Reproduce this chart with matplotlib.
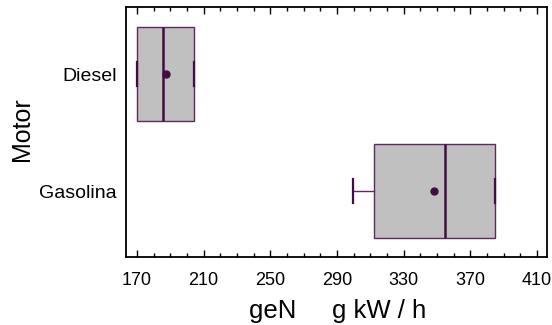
import matplotlib
matplotlib.use("Agg")
import matplotlib.pyplot as plt
from matplotlib.ticker import MultipleLocator

plt.rcParams['font.family'] = ['Liberation Sans', 'DejaVu Sans']

# box plot summary per motor type
motors = ["Gasolina", "Diesel"]
mins = [299.6, 170.0]
q1s = [312.4, 170.0]
medians = [354.8, 185.8]
means = [348.4, 187.2]
q3s = [384.8, 204.5]
maxs = [384.8, 204.5]

box_edge = '#5e2a5e'
dark = '#420d42'

fig = plt.figure(figsize=(5.52, 3.25), dpi=100)
ax = fig.add_axes([0.228, 0.209, 0.763, 0.769])

stats = []
for i in range(len(motors)):
    stats.append({
        'label': motors[i],
        'whislo': mins[i], 'q1': q1s[i], 'med': medians[i],
        'q3': q3s[i], 'whishi': maxs[i], 'mean': means[i], 'fliers': [],
    })

ax.bxp(stats, positions=[1, 2], vert=False, widths=0.8, patch_artist=True,
       showmeans=True, showfliers=False,
       boxprops=dict(facecolor='#c0c0c0', edgecolor=box_edge, linewidth=1.0),
       medianprops=dict(color=dark, linewidth=1.8),
       whiskerprops=dict(color=box_edge, linewidth=1.0),
       capprops=dict(color=dark, linewidth=1.6),
       capwidths=0.2,
       meanprops=dict(marker='o', markerfacecolor=dark, markeredgecolor=dark,
                      markersize=5))

ax.set_xlim(163.4, 416)
ax.set_ylim(0.436, 2.573)
ax.xaxis.set_minor_locator(MultipleLocator(10))
ax.set_xticks([170, 210, 250, 290, 330, 370, 410])
ax.tick_params(axis='x', which='both', direction='in', top=True, bottom=True,
               labelsize=13, width=1.0, pad=10.5)
ax.tick_params(axis='x', which='major', length=5)
ax.tick_params(axis='x', which='minor', length=3)
ax.tick_params(axis='y', length=0, labelsize=14, pad=6.5)
ax.set_yticks([1, 2])
ax.set_yticklabels(motors)

for s in ax.spines.values():
    s.set_linewidth(1.3)

ax.set_xlabel("geN     g kW / h", fontsize=18.5)
ax.set_ylabel("Motor", fontsize=18)
ax.xaxis.set_label_coords(0.502, -0.168)
ax.yaxis.set_label_coords(-0.218, 0.512)

fig.savefig("out.png", dpi=100)
